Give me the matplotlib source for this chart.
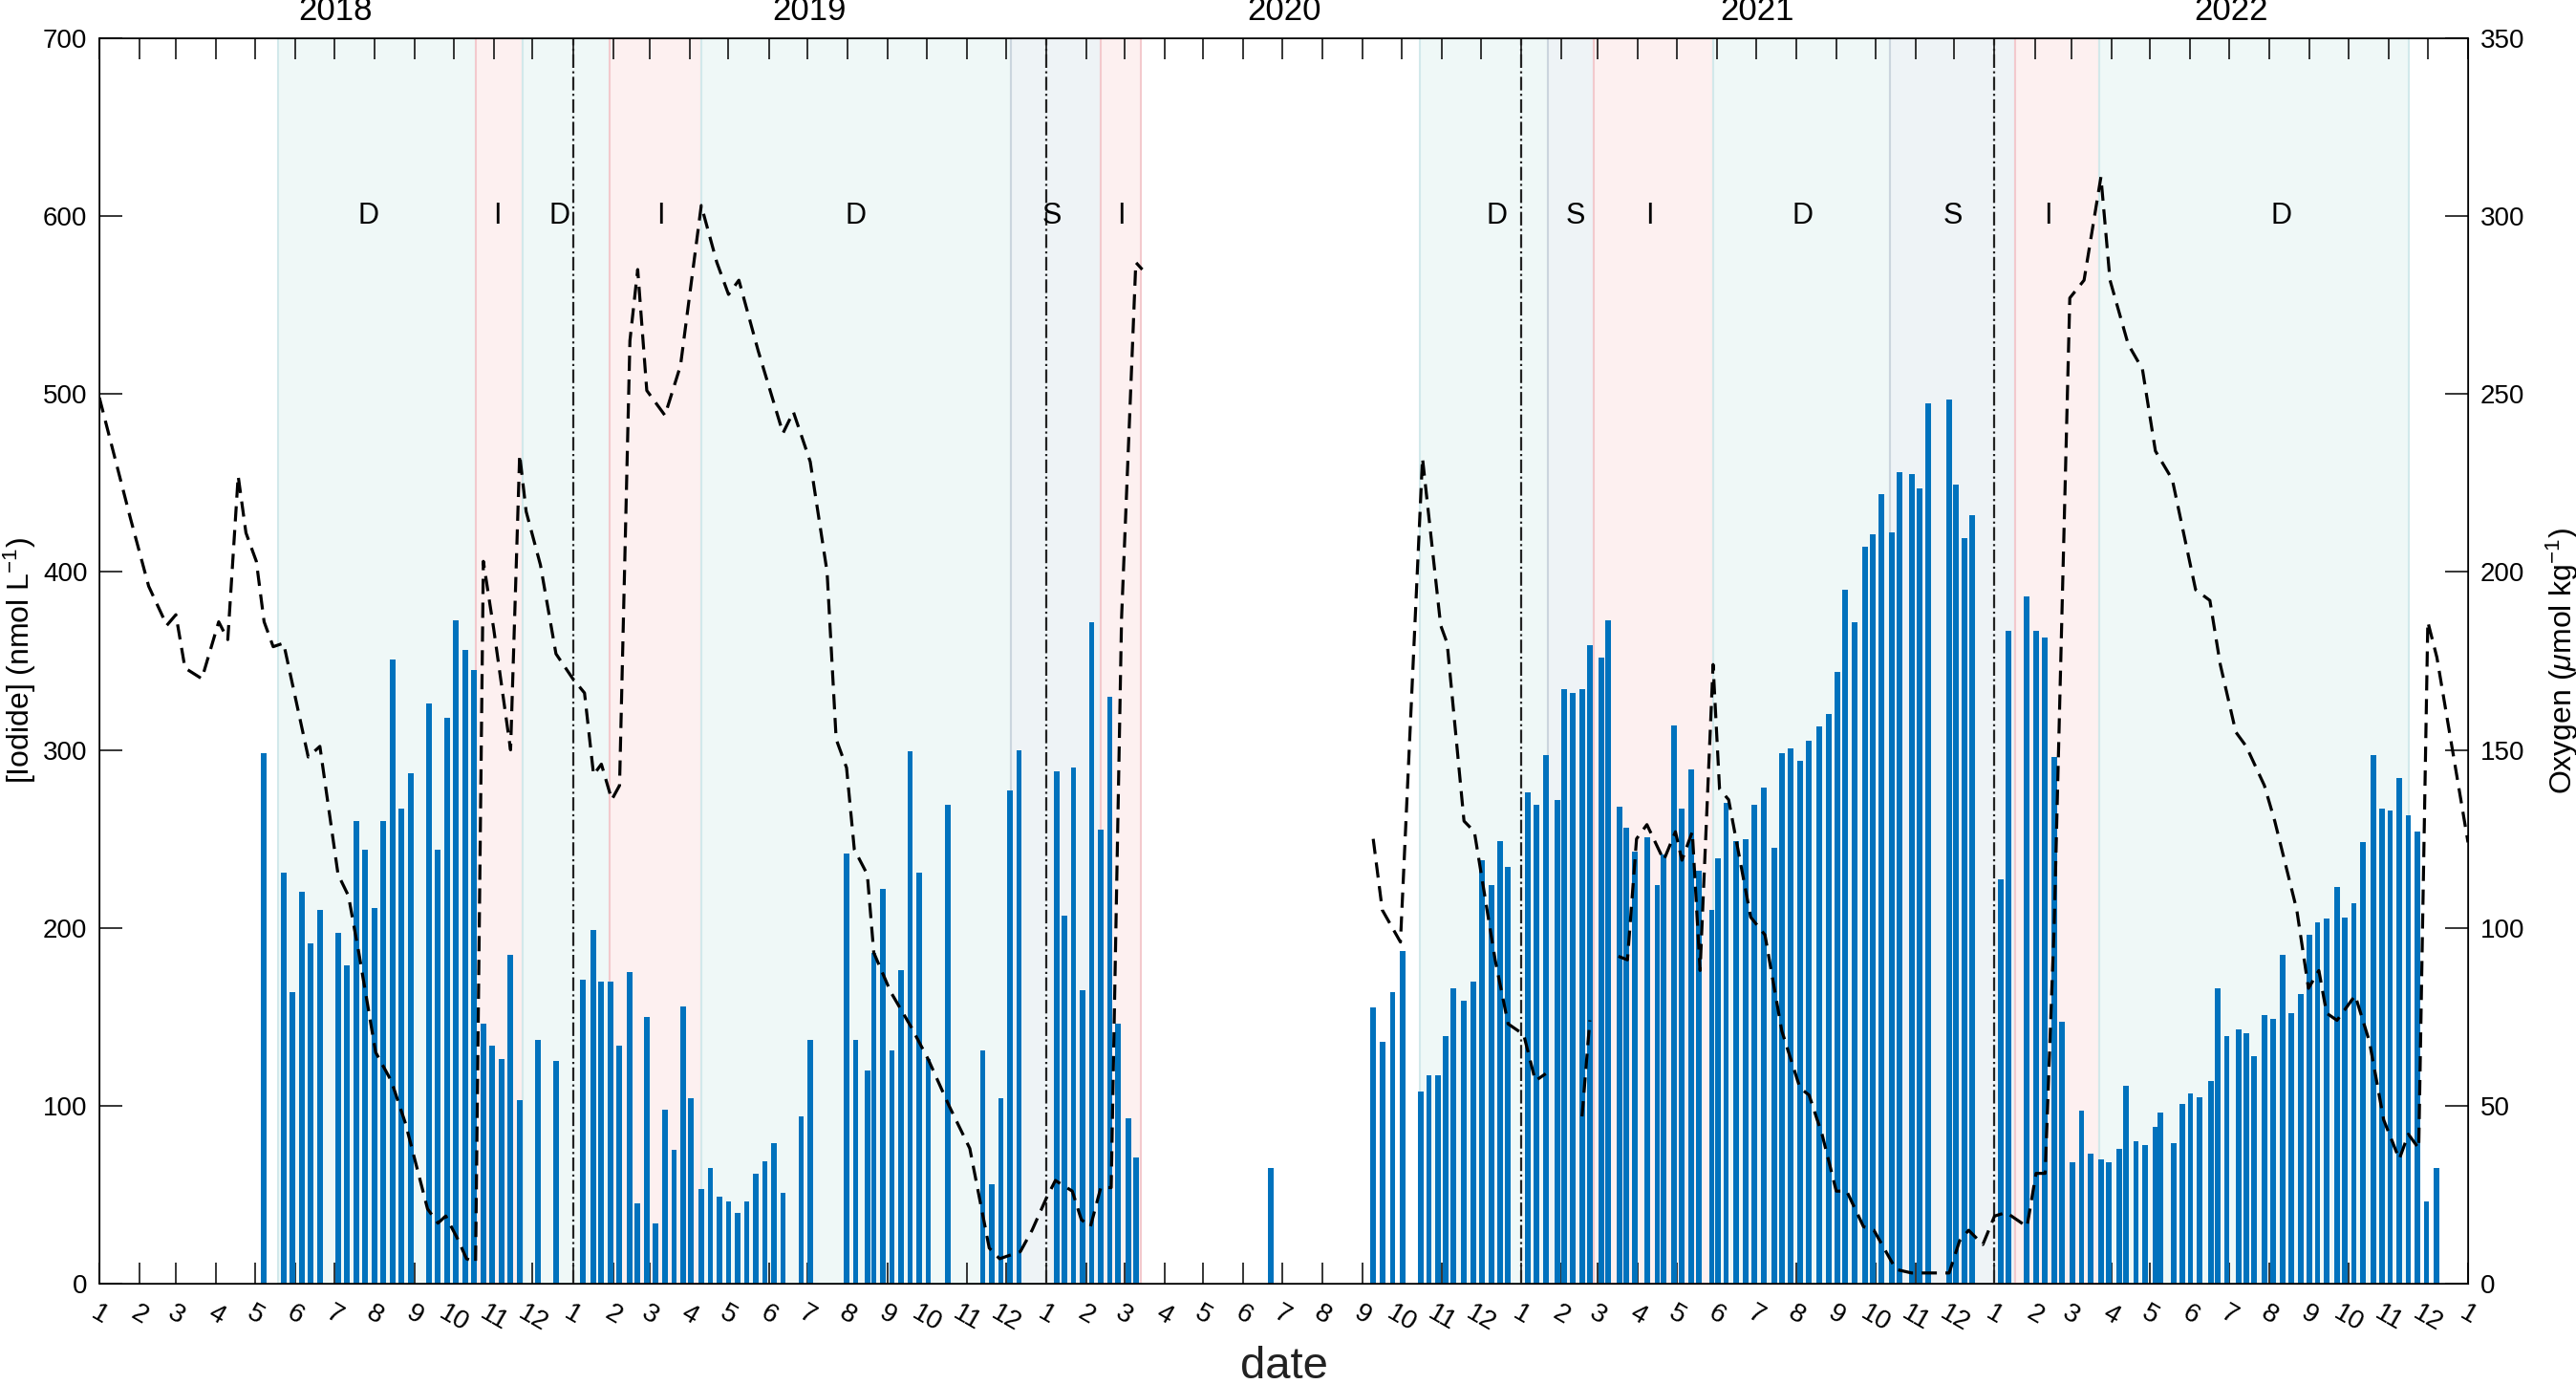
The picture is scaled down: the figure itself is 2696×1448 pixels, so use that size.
import numpy as np
import pandas as pd
import matplotlib
matplotlib.use('Agg')
import matplotlib.pyplot as plt

plt.rcParams['font.family'] = ['Liberation Sans', 'DejaVu Sans']
plt.rcParams['mathtext.fontset'] = 'custom'
plt.rcParams['mathtext.rm'] = 'Liberation Sans'
plt.rcParams['mathtext.it'] = 'Liberation Sans:italic'

start = pd.Timestamp('2018-01-01')

# iodide samples: day since 2018-01-01, concentration (nmol/L)
iodide_day = [127, 142, 149, 156, 163, 170, 184, 191, 198, 205, 212, 219, 226, 233, 240, 254, 261, 268, 275, 282,
              289, 296, 303, 310, 317, 324, 338, 352,
              373, 381, 387, 394, 401, 409, 415, 422, 429, 436, 443, 450, 456, 464, 471, 478, 485, 492, 499, 506,
              513, 520, 527, 541, 548, 576, 583, 592, 597, 604, 611, 618, 625, 632, 639, 654, 681, 688, 695, 702, 709,
              738, 744, 751, 758, 765, 772, 779, 785, 793, 799, 903, 982, 989, 997, 1005, 1019, 1025, 1032, 1038, 1044,
              1052, 1059, 1066, 1073, 1080, 1086,
              1101, 1108, 1115, 1124, 1129, 1136, 1143, 1149, 1158, 1163, 1172, 1177, 1184, 1193, 1201, 1206, 1214,
              1220, 1227, 1233, 1243, 1248, 1254, 1262, 1269, 1276, 1283, 1291, 1297, 1304, 1311, 1318, 1326, 1333,
              1340, 1346, 1353, 1361, 1367, 1374, 1382, 1388, 1397, 1403, 1410, 1426, 1431, 1438, 1444,
              1466, 1472, 1486, 1493, 1500, 1507, 1513, 1521, 1528, 1535, 1543, 1549, 1557, 1562, 1570, 1577, 1585,
              1589, 1599, 1606, 1612, 1619, 1628, 1633, 1640, 1649, 1655, 1661, 1669, 1676, 1683, 1690, 1697, 1704,
              1710, 1717, 1725, 1731, 1738, 1745, 1753, 1760, 1766, 1773, 1780, 1787, 1794, 1802]
iodide = [298, 231, 164, 220, 191, 210, 197, 179, 260, 244, 211, 260, 351, 267, 287, 326, 244, 318, 373, 356,
          345, 146, 134, 126, 185, 103, 137, 125,
          171, 199, 170, 170, 134, 175, 45, 150, 34, 98, 75, 156, 104, 53, 65, 49, 46, 40, 46, 62,
          69, 79, 51, 94, 137, 242, 137, 120, 186, 222, 131, 176, 299, 231, 126, 269, 131, 56, 104, 277, 300,
          288, 207, 290, 165, 372, 255, 330, 146, 93, 71, 65, 155, 136, 164, 187, 108, 117, 117, 139, 166,
          159, 170, 238, 224, 249, 234,
          276, 269, 297, 272, 334, 332, 334, 359, 352, 373, 268, 256, 243, 251, 224, 241, 314,
          267, 289, 232, 210, 239, 270, 249, 250, 269, 279, 245, 298, 301, 294, 305, 313, 320,
          344, 390, 372, 414, 421, 444, 422, 456, 455, 447, 495, 497, 449, 419, 432,
          227, 367, 386, 367, 363, 296, 147, 68, 97, 73, 70, 68, 76, 111, 80, 78, 88,
          96, 79, 101, 107, 105, 114, 166, 139, 143, 141, 128, 151, 149, 185, 152, 163, 196,
          203, 205, 223, 206, 214, 248, 297, 267, 266, 284, 263, 254, 46, 65]

nan = np.nan
# oxygen (umol/kg), gaps as nan
o2_day = [0, 24, 38, 52, 59, 66, 79, 92, 99, 107, 113, 121, 127, 134, 142, 161, 170, 184, 192, 200, 213, 225, 236,
          253, 261, 267, 277, 283, 290, 296, 304, 317, 324, 329, 340, 352, 365, 374, 381, 387, 395, 401, 409, 415,
          422, 436, 448, 464, 476, 485, 493, 508, 527, 535, 548, 561, 568, 576, 582, 592, 597, 610, 626, 639, 655,
          671, 686, 694, 710, 719, 730, 737, 750, 757, 764, 772, 780, 788, 799, 804, 805,
          982, 989, 1003, 1020, 1034, 1039, 1052, 1060, 1076, 1086, 1098, 1107, 1115, 1116,
          1143, 1149, 1150,
          1171, 1178, 1185, 1193, 1206, 1215, 1220, 1228, 1234, 1244, 1249, 1256, 1273, 1284, 1297, 1311, 1318, 1328,
          1339, 1347, 1360, 1368, 1385, 1397, 1411, 1426, 1434, 1441, 1452, 1461, 1470, 1486, 1493, 1500, 1507, 1519,
          1530, 1543, 1550, 1564, 1575, 1585, 1598, 1616, 1627, 1635, 1647, 1655, 1669, 1677, 1694, 1703, 1711, 1717,
          1725, 1739, 1750, 1761, 1773, 1780, 1788, 1795, 1802, 1826]
o2 = [249, 215, 196, 185, 188, 173, 170, 186, 181, 227, 211, 203, 186, 179, 180, 148, 151, 115, 109, 93, 65, 57, 45,
      21, 17, 19, 12, 7, 6, 203, 184, 150, 233, 217, 202, 177, 170, 166, 143, 146, 136, 140, 265, 285,
      251, 244, 258, 303, 287, 278, 282, 262, 239, 245, 231, 200, 153, 145, 122, 115, 93, 82, 72, 63, 50,
      38, 10, 7, 9, 15, 24, 29, 26, 18, 16, 27, 27, 187, 287, 285, nan,
      125, 105, 96, 232, 185, 180, 130, 127, 91, 73, 70, 57, 59, nan,
      47, 74, nan,
      92, 91, 125, 129, 119, 127, 119, 127, 88, 174, 139, 136, 103, 98, 71, 55, 53, 42,
      26, 26, 16, 15, 4, 3, 3, 3, 12, 15, 11, 19, 20, 16, 31, 31, 101, 277,
      282, 311, 282, 264, 257, 234, 226, 195, 192, 174, 155, 151, 140, 130, 105, 83, 88, 76,
      74, 81, 68, 46, 35, 42, 38, 186, 176, 124]

# regime periods
zone_start = ['2018-05-19', '2018-10-18', '2018-11-23', '2019-01-29', '2019-04-10', '2019-12-05', '2020-02-12',
              '2020-10-15', '2021-01-22', '2021-02-26', '2021-05-29', '2021-10-12', '2022-01-17', '2022-03-23']
zone_end = ['2018-10-18', '2018-11-23', '2019-01-29', '2019-04-10', '2019-12-05', '2020-02-12', '2020-03-14',
            '2021-01-22', '2021-02-26', '2021-05-29', '2021-10-12', '2022-01-17', '2022-03-23', '2022-11-16']
zone_kind = ['D', 'I', 'D', 'I', 'D', 'S', 'I', 'D', 'S', 'I', 'D', 'S', 'I', 'D']
label_date = ['2018-07-27', '2018-11-04', '2018-12-22', '2019-03-10', '2019-08-07', '2020-01-05', '2020-02-28',
              '2020-12-13', '2021-02-12', '2021-04-10', '2021-08-06', '2021-11-30', '2022-02-11', '2022-08-10']
year_labels = ['2018', '2019', '2020', '2021', '2022']
year_lines = ['2019-01-01', '2020-01-01', '2021-01-01', '2022-01-01']

fills = {'D': '#eff8f7', 'I': '#fdf0f0', 'S': '#eef3f6'}
edges = {'D': '#d2e9eb', 'I': '#f3c9cd', 'S': '#cbd5de'}

fig = plt.figure(figsize=(26.96, 14.48), dpi=100)
ax = fig.add_axes([104 / 2696, 1 - 1343 / 1448, 2479 / 2696, 1303 / 1448])

for s, e, k in zip(zone_start, zone_end, zone_kind):
    ax.axvspan(pd.Timestamp(s), pd.Timestamp(e), facecolor=fills[k], edgecolor=edges[k], lw=1.5, zorder=0.5)

bar_x = start + pd.to_timedelta(iodide_day, unit='D')
ax.bar(bar_x, iodide, width=4.3, color='#0072bd', zorder=2)

for d in year_lines:
    ax.axvline(pd.Timestamp(d), color='#222222', ls='-.', lw=1.6, zorder=3)

for d, t in zip(label_date, zone_kind):
    ax.text(pd.Timestamp(d), 600, t, ha='center', va='center', fontsize=22, zorder=4)

for y in year_labels:
    ax.text(pd.Timestamp(y + '-07-02'), 1.009, y, transform=ax.get_xaxis_transform(),
            ha='center', va='bottom', fontsize=25)

ax.set_xlim(pd.Timestamp('2018-01-01'), pd.Timestamp('2023-01-01'))
ax.set_ylim(0, 700)
ax.set_yticks(range(0, 701, 100))
months = pd.date_range('2018-01-01', '2023-01-01', freq='MS')
ax.set_xticks(months)
ax.set_xticklabels([str(m.month) for m in months], rotation=-30, ha='center', rotation_mode='default')
ax.tick_params(axis='x', direction='in', length=16, width=1.1, top=True, labelsize=20, pad=13)
ax.tick_params(axis='y', direction='in', length=17, width=1.1, right=False, labelsize=20, pad=9)
for sp in ax.spines.values():
    sp.set_linewidth(1.1)

ax.set_ylabel('[Iodide] (nmol L$^{-1}$)', fontsize=23)
ax.yaxis.set_label_coords(-0.026, 0.5)
ax.set_xlabel('date', fontsize=34, color='#222222')
ax.xaxis.set_label_coords(0.5, -0.05)

ax2 = ax.twinx()
o2_x = start + pd.to_timedelta(o2_day, unit='D')
ax2.plot(o2_x, o2, color='black', ls='--', lw=2.3, dashes=(5, 2.8), zorder=5)
ax2.set_ylim(0, 350)
ax2.set_yticks(range(0, 351, 50))
ax2.tick_params(axis='y', direction='in', length=17, width=1.1, labelsize=20, pad=9)
ax2.set_ylabel('Oxygen ($\\mu$mol kg$^{-1}$)', fontsize=23, rotation=90)
ax2.yaxis.set_label_coords(1.032, 0.5)
ax2.set_xlim(pd.Timestamp('2018-01-01'), pd.Timestamp('2023-01-01'))

fig.savefig('out.png', dpi=100)
